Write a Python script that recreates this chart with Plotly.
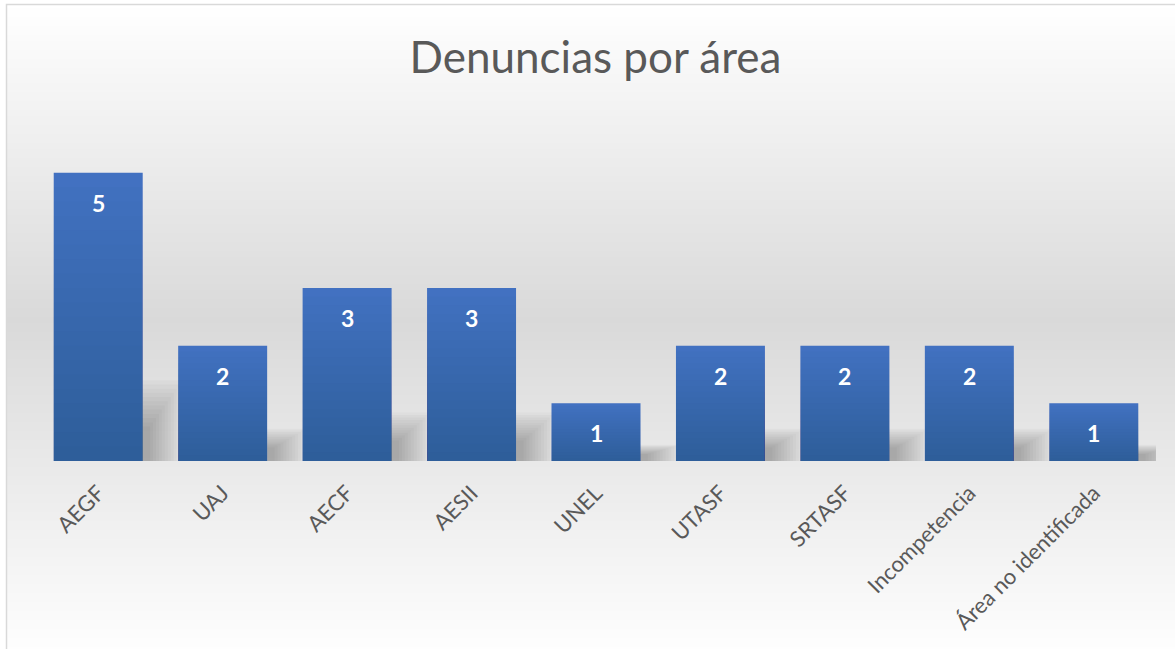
import plotly.graph_objects as go

# ---- data ----
categories = ["AEGF", "UAJ", "AECF", "AESII", "UNEL", "UTASF", "SRTASF",
              "Incompetencia", "Área no identificada"]
values = [5, 2, 3, 3, 1, 2, 2, 2, 1]
title_text = "Denuncias por área"

# ---- layout geometry (pixels) ----
W, H = 1175, 649
L, R, T, B = 36, 19, 115, 188
PW, PH = W - L - R, H - T - B
BARGAP = 0.285
BW = 1 - BARGAP

def px(x):
    return (x - L) / PW

def py(y):
    return (H - B - y) / PH

def grey(v):
    v = int(round(v))
    return f"rgb({v},{v},{v})"

fig = go.Figure()

# soft drop shadows to the lower right of each bar (drawn first, underneath)
NS = 12
for j in range(NS):
    t = j / (NS - 1)
    ext = 0.32 - 0.26 * t
    hf = 0.28 - 0.16 * t
    fig.add_trace(go.Bar(
        x=categories, y=[v * hf for v in values],
        offset=-BW / 2 + 0.03, width=BW - 0.03 + ext,
        marker=dict(color="rgba(0,0,0,0.022)", line=dict(width=0)),
        showlegend=False, hoverinfo="skip",
    ))

# base bars
fig.add_trace(go.Bar(
    x=categories, y=values, marker=dict(color="#4472C4", line=dict(width=0)),
    showlegend=False, hoverinfo="x+y",
))

# vertical gradient inside bars (darker to the bottom), built from bar heights
N = 20
for k in range(1, N + 1):
    frac = k / N
    fig.add_trace(go.Bar(
        x=categories, y=[v * frac for v in values],
        marker=dict(color="rgba(4,34,84,0.0145)", line=dict(width=0)),
        showlegend=False, hoverinfo="skip",
    ))

# data labels
for c, v in zip(categories, values):
    fig.add_annotation(
        x=c, y=v, text=f"<b>{v}</b>", showarrow=False, yshift=-30,
        yanchor="middle", font=dict(family="Lato", size=23, color="white"),
    )

# background gradient (white -> grey -> white)
shapes = []
top, mid, bot = 5, 320, 660
step = 3
y = top
while y < H:
    yc = y + step / 2
    if yc <= mid:
        g = 255 - (255 - 217) * (yc - top) / (mid - top)
    else:
        g = 217 + (255 - 217) * (yc - mid) / (bot - mid)
    shapes.append(dict(
        type="rect", xref="paper", yref="paper",
        x0=px(7), x1=px(W + 5), y0=py(min(y + step + 0.5, H)), y1=py(y),
        fillcolor=grey(g), line=dict(width=0), layer="below",
    ))
    y += step
# chart frame
shapes.append(dict(
    type="rect", xref="paper", yref="paper",
    x0=px(6.5), x1=px(W + 10), y0=py(H + 10), y1=py(4.5),
    line=dict(color="#d9d9d9", width=1.5), fillcolor="rgba(0,0,0,0)",
    layer="above",
))

fig.update_layout(
    width=W, height=H,
    margin=dict(l=L, r=R, t=T, b=B, pad=0),
    barmode="overlay", bargap=BARGAP,
    paper_bgcolor="white", plot_bgcolor="rgba(0,0,0,0)",
    shapes=shapes,
    title=dict(
        text=title_text, x=595.5 / W, xanchor="center",
        y=1 - 58 / H, yanchor="middle",
        font=dict(family="Lato", size=44, color="#595959"),
    ),
    xaxis=dict(
        tickangle=-45, showline=False, showgrid=False, zeroline=False,
        ticks="", ticklabelstandoff=14, range=[-0.5, len(categories) - 0.5],
        tickfont=dict(family="Lato", size=22, color="#595959"),
    ),
    yaxis=dict(visible=False, range=[0, 6]),
    font=dict(family="Lato"),
)

fig.write_html(
    "out.html",
    config={"displayModeBar": False},
    post_script="document.body.style.margin='0';document.body.style.overflow='hidden';",
)
